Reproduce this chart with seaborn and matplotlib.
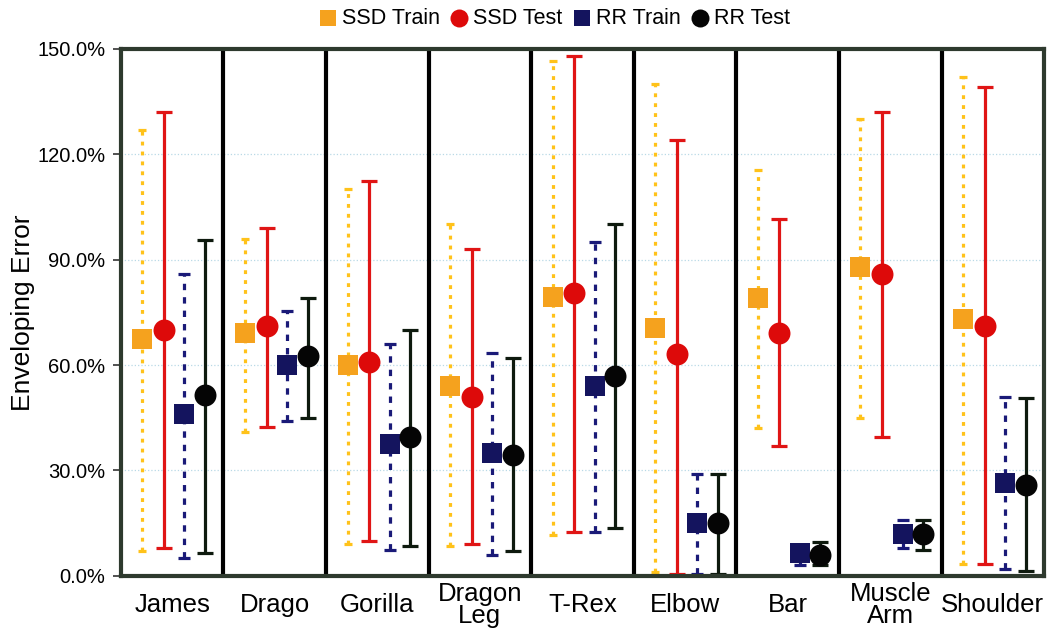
import numpy as np
import pandas as pd
import matplotlib.pyplot as plt
import seaborn as sns
from matplotlib.ticker import FuncFormatter

# -----------------------------
# Data
# -----------------------------

models = ["James", "Drago", "Gorilla", "Dragon\nLeg", "T-Rex",
          "Elbow", "Bar", "Muscle\nArm", "Shoulder"]

ssd_train = [67.5, 69.0, 60.0, 54.0, 79.5, 70.5, 79.0, 88.0, 73.0]
ssd_train_lo = [7.0, 41.0, 9.0, 8.5, 11.5, 1.0, 42.0, 45.0, 3.5]
ssd_train_hi = [127.0, 96.0, 110.0, 100.0, 146.5, 140.0, 115.5, 130.0, 142.0]

ssd_test = [70.0, 71.0, 61.0, 51.0, 80.5, 63.0, 69.0, 86.0, 71.0]
ssd_test_lo = [8.0, 42.5, 10.0, 9.0, 12.5, 0.5, 37.0, 39.5, 3.5]
ssd_test_hi = [132.0, 99.0, 112.5, 93.0, 148.0, 124.0, 101.5, 132.0, 139.0]

rr_train = [46.0, 60.0, 37.5, 35.0, 54.0, 15.0, 6.5, 12.0, 26.5]
rr_train_lo = [5.0, 44.0, 7.5, 6.0, 12.5, 0.5, 3.0, 8.0, 2.0]
rr_train_hi = [86.0, 75.5, 66.0, 63.5, 95.0, 29.0, 8.5, 16.0, 51.0]

rr_test = [51.5, 62.5, 39.5, 34.5, 57.0, 15.0, 6.0, 12.0, 26.0]
rr_test_lo = [6.5, 45.0, 8.5, 7.0, 13.5, 0.5, 3.0, 7.5, 1.5]
rr_test_hi = [95.5, 79.0, 70.0, 62.0, 100.0, 29.0, 9.5, 16.0, 50.5]

series = [
    ("SSD Train", ssd_train, ssd_train_lo, ssd_train_hi),
    ("SSD Test", ssd_test, ssd_test_lo, ssd_test_hi),
    ("RR Train", rr_train, rr_train_lo, rr_train_hi),
    ("RR Test", rr_test, rr_test_lo, rr_test_hi),
]

# -----------------------------
# Styles
# -----------------------------

styles = {
    "SSD Train": dict(offset=-0.29, marker="s", color="#F5A21E", ecolor="#FFC21A",
                      ls=(0, (1.2, 1.9)), cap=3, s=200),
    "SSD Test": dict(offset=-0.08, marker="o", color="#DD0A0A", ecolor="#E01515",
                     ls="-", cap=6, s=250),
    "RR Train": dict(offset=0.12, marker="s", color="#14145E", ecolor="#1A1A78",
                     ls=(0, (2.0, 2.2)), cap=4, s=210),
    "RR Test": dict(offset=0.32, marker="o", color="#050505", ecolor="#0E1A0E",
                    ls="-", cap=6, s=250),
}

sns.set_style("white")
plt.rcParams["font.family"] = ["Liberation Sans", "DejaVu Sans"]
plt.rcParams["text.color"] = "black"
plt.rcParams["axes.labelcolor"] = "black"
plt.rcParams["xtick.color"] = "black"
plt.rcParams["ytick.color"] = "black"

fig = plt.figure(figsize=(10.6, 6.42), dpi=100)
ax = fig.add_axes([0.114, 0.103, 0.871, 0.821])

xpos = np.arange(len(models))

for name, vals, lo, hi in series:
    st = styles[name]
    vals = np.array(vals)
    x = xpos + st["offset"]
    yerr = [vals - np.array(lo), np.array(hi) - vals]
    eb = ax.errorbar(x, vals, yerr=yerr, fmt="none", ecolor=st["ecolor"],
                     elinewidth=2.3, capsize=st["cap"], capthick=2.3, zorder=2)
    for lc in eb[2]:
        lc.set_linestyle(st["ls"])
    df = pd.DataFrame({"x": x, "y": vals})
    sns.scatterplot(data=df, x="x", y="y", ax=ax, marker=st["marker"],
                    color=st["color"], s=st["s"], linewidth=0, label=name,
                    zorder=3)

# group separators
for i in range(len(models) - 1):
    ax.axvline(i + 0.5, color="black", linewidth=3, zorder=1)

ax.set_xlim(-0.5, len(models) - 0.5)
ax.set_ylim(0, 150)
ax.set_xticks(xpos)
ax.set_xticklabels(models, fontsize=18.5, linespacing=0.9)
for lab in ax.get_xticklabels():
    lab.set_verticalalignment("center")
ax.set_yticks(np.arange(0, 151, 30))
ax.yaxis.set_major_formatter(FuncFormatter(lambda v, p: f"{v:.1f}%"))
ax.tick_params(axis="y", labelsize=14.5, left=True, length=6, width=1.2,
               color="#333333", pad=5)
ax.tick_params(axis="x", length=0, pad=21)
ax.set_xlabel("")
ax.set_ylabel("Enveloping Error", fontsize=19, labelpad=2)

ax.yaxis.grid(True, color="#B9D9E6", linestyle=":", linewidth=0.9)
ax.set_axisbelow(True)
for sp in ax.spines.values():
    sp.set_color("#2E3A2E")
    sp.set_linewidth(3)

ax.legend(loc="center", bbox_to_anchor=(0.468, 1.058), ncol=4, frameon=False,
          fontsize=15.5, handletextpad=0.1, columnspacing=0.35, markerscale=0.82,
          borderaxespad=0, handlelength=1.1, borderpad=0)

plt.savefig("out.png", dpi=100)
plt.close()
